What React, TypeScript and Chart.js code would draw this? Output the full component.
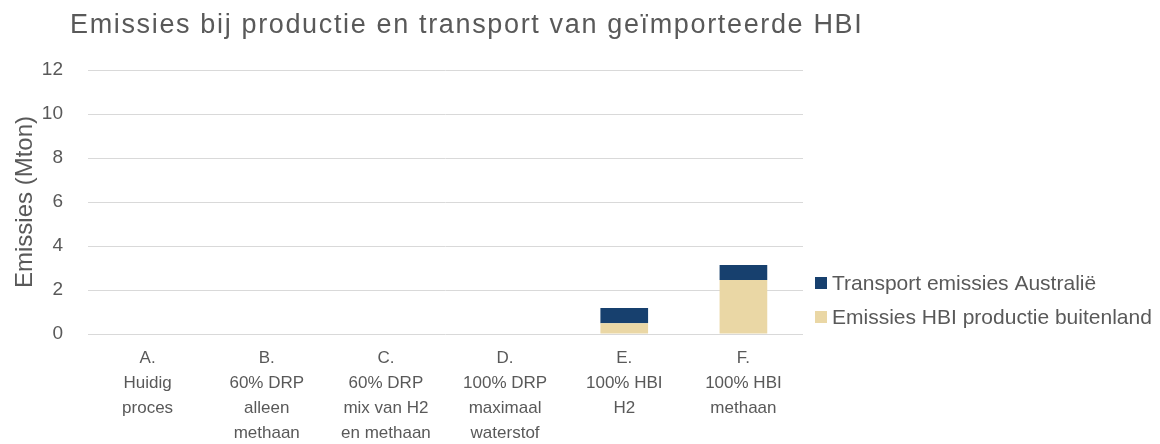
import React, { useEffect, useRef } from "react";
import { Chart, registerables } from "chart.js";

Chart.register(...registerables);

const chartTitle = "Emissies bij productie en transport van geïmporteerde HBI";
const yAxisTitle = "Emissies (Mton)";
const categories: string[][] = [
  ["A.", "Huidig", "proces"],
  ["B.", "60% DRP", "alleen", "methaan"],
  ["C.", "60% DRP", "mix van H2", "en methaan"],
  ["D.", "100% DRP", "maximaal", "waterstof"],
  ["E.", "100% HBI", "H2"],
  ["F.", "100% HBI", "methaan"],
];
const seriesNames: string[] = ["Emissies HBI productie buitenland", "Transport emissies Australië"];
const productieBuitenland: number[] = [0, 0, 0, 0, 0.49, 2.45];
const transportAustralie: number[] = [0, 0, 0, 0, 0.69, 0.69];
const yTicks: number[] = [0, 2, 4, 6, 8, 10, 12];

const FONT = "'Liberation Sans', Arial, sans-serif";
const GREY = "#595959";
const TAN = "#EAD7A5";
const NAVY = "#17406E";

const titleLegendPlugin = {
  id: "titleLegend",
  afterDraw(chart: any) {
    const { ctx, chartArea } = chart;
    ctx.save();
    ctx.fillStyle = GREY;
    // title
    ctx.font = `27px ${FONT}`;
    (ctx as any).letterSpacing = "1.65px";
    ctx.textAlign = "left";
    ctx.textBaseline = "alphabetic";
    ctx.fillText(chartTitle, chartArea.left - 18, 33);
    // legend (reversed order, like the stack)
    (ctx as any).letterSpacing = "0px";
    ctx.font = `21px ${FONT}`;
    ctx.textBaseline = "middle";
    const items = chart.data.datasets.slice().reverse();
    const x = chartArea.right + 12;
    items.forEach((ds: any, i: number) => {
      const y = chartArea.bottom - 51 + i * 34;
      ctx.fillStyle = ds.backgroundColor;
      ctx.fillRect(x, y - 6, 12, 12);
      ctx.fillStyle = GREY;
      ctx.fillText(ds.label, x + 17, y + 1);
    });
    ctx.restore();
  },
};

export default function App() {
  const ref = useRef<HTMLCanvasElement | null>(null);
  useEffect(() => {
    document.body.style.margin = "0";
    if (!ref.current) return;
    const chart = new Chart(ref.current, {
      type: "bar",
      data: {
        labels: categories,
        datasets: [
          {
            label: seriesNames[0],
            data: productieBuitenland,
            backgroundColor: TAN,
            barPercentage: 0.4,
            categoryPercentage: 1,
          },
          {
            label: seriesNames[1],
            data: transportAustralie,
            backgroundColor: NAVY,
            barPercentage: 0.4,
            categoryPercentage: 1,
          },
        ],
      },
      plugins: [titleLegendPlugin],
      options: {
        animation: false,
        responsive: false,
        layout: { padding: { left: 11, right: 357, top: 70, bottom: 0 } },
        plugins: {
          title: { display: false },
          legend: { display: false },
          tooltip: { enabled: false },
        },
        scales: {
          x: {
            stacked: true,
            afterFit: (scale: any) => {
              scale.height = 110;
            },
            grid: { display: false, drawTicks: false },
            border: { display: false },
            ticks: {
              color: GREY,
              font: { family: FONT, size: 17, lineHeight: 1.47 },
              maxRotation: 0,
              autoSkip: false,
              padding: 12,
            },
          },
          y: {
            stacked: true,
            min: 0,
            max: 12,
            afterFit: (scale: any) => {
              scale.width = 77;
            },
            afterBuildTicks: (axis: any) => {
              axis.ticks = yTicks.map((v) => ({ value: v }));
            },
            grid: { color: "#D9D9D9", lineWidth: 1, drawTicks: false },
            border: { display: false },
            ticks: {
              color: GREY,
              font: { family: FONT, size: 19 },
              padding: 25,
            },
            title: {
              display: true,
              text: yAxisTitle,
              color: GREY,
              font: { family: FONT, size: 24 },
              padding: { top: 0, bottom: 4 },
            },
          },
        },
      },
    });
    return () => chart.destroy();
  }, []);
  return (
    <div style={{ width: 1160, height: 444 }}>
      <canvas ref={ref} width={1160} height={444} />
    </div>
  );
}
